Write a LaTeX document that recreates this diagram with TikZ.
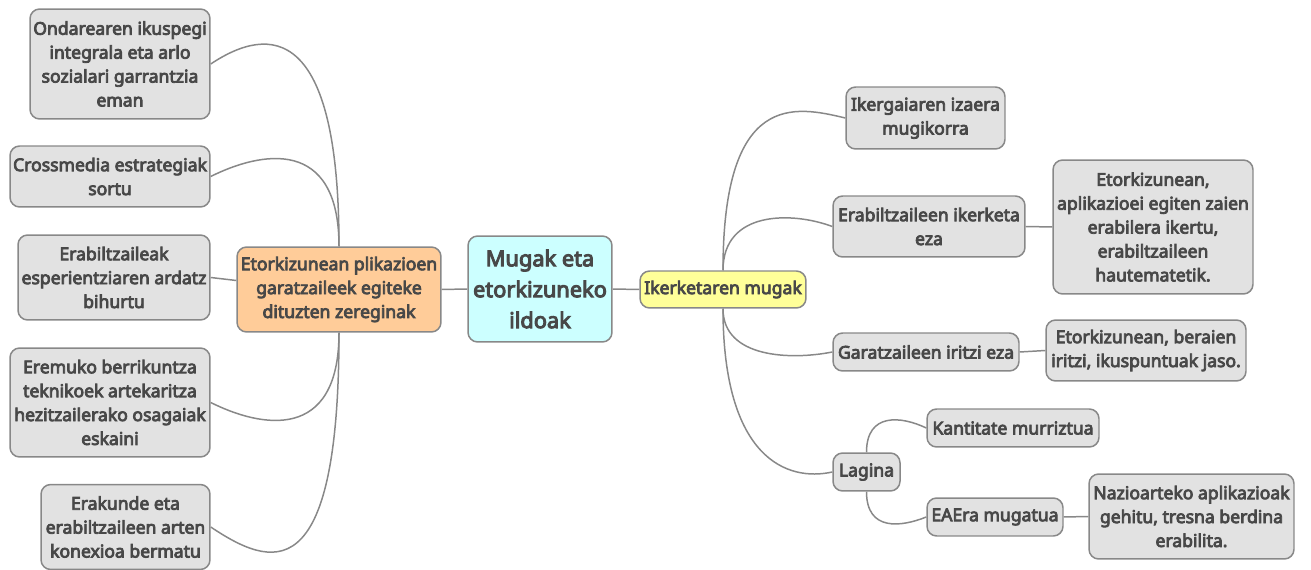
\documentclass[tikz,border=0pt]{standalone}
\usepackage{fontspec}
\setmainfont{Noto Sans}[AutoFakeBold=4.5]

\definecolor{lerroa}{HTML}{888888}
\definecolor{testua}{HTML}{484848}
\definecolor{grisa}{HTML}{E2E2E2}
\definecolor{laranja}{HTML}{FFCC99}
\definecolor{zian}{HTML}{CCFFFF}
\definecolor{horia}{HTML}{FFFF99}

\tikzset{
   kutxa/.style={draw=lerroa, line width=0.85pt, rounded corners=5.5pt, fill=grisa, text=testua,
      font=\bfseries\fontsize{10}{13.6}\selectfont, align=center, inner sep=0pt},
   adar/.style={draw=lerroa, line width=0.85pt},
}

\begin{document}
\begin{tikzpicture}[x=0.02cm, y=-0.02cm]

   \useasboundingbox (0,0) rectangle (1311,570);

   % erdiko nodoa
   \node [kutxa, fill=zian, minimum width=2.88cm, minimum height=2.12cm,
      font=\bfseries\fontsize{12.4}{17.6}\selectfont] (erdia) at (540,289) {Mugak eta\\etorkizuneko\\ildoak};
   \node [kutxa, fill=horia, minimum width=3.32cm, minimum height=0.74cm] (mugak) at (723,289.5) {Ikerketaren mugak};
   \node [kutxa, fill=laranja, minimum width=4.08cm, minimum height=1.70cm] (zereginak) at (339,289.5)
      {Etorkizunean plikazioen\\garatzaileek egiteke\\dituzten zereginak};

   % ezkerreko adarra
   \node [kutxa, minimum width=3.60cm, minimum height=2.20cm] (ondarea) at (120,64)
      {Ondarearen ikuspegi\\integrala eta arlo\\sozialari garrantzia\\eman};
   \node [kutxa, minimum width=4.00cm, minimum height=1.22cm] (crossmedia) at (110,176.5)
      {Crossmedia estrategiak\\sortu};
   \node [kutxa, minimum width=3.84cm, minimum height=1.70cm] (ardatza) at (114,277.5)
      {Erabiltzaileak\\esperientziaren ardatz\\bihurtu};
   \node [kutxa, minimum width=4.00cm, minimum height=2.18cm] (berrikuntza) at (110,402.5)
      {Eremuko berrikuntza\\teknikoek artekaritza\\hezitzailerako osagaiak\\eskaini};
   \node [kutxa, minimum width=3.38cm, minimum height=1.70cm] (konexioa) at (125.5,527)
      {Erakunde eta\\erabiltzaileen arten\\konexioa bermatu};

   % eskuineko adarra
   \node [kutxa, minimum width=3.18cm, minimum height=1.24cm] (izaera) at (925.5,118)
      {Ikergaiaren izaera\\mugikorra};
   \node [kutxa, minimum width=3.84cm, minimum height=1.22cm] (ikerketa) at (929,226.5)
      {Erabiltzaileen ikerketa\\eza};
   \node [kutxa, minimum width=4.00cm, minimum height=2.68cm] (erabilera) at (1153,227)
      {Etorkizunean,\\aplikazioei egiten zaien\\erabilera ikertu,\\erabiltzaileen\\hautematetik.};
   \node [kutxa, minimum width=3.72cm, minimum height=0.76cm] (iritzia) at (926,352)
      {Garatzaileen iritzi eza};
   \node [kutxa, minimum width=4.00cm, minimum height=1.22cm] (ikuspuntuak) at (1146,350.5)
      {Etorkizunean, beraien\\iritzi, ikuspuntuak jaso.};
   \node [kutxa, minimum width=1.34cm, minimum height=0.76cm] (lagina) at (866.5,472) {Lagina};
   \node [kutxa, minimum width=3.44cm, minimum height=0.76cm] (kantitatea) at (1013,428)
      {Kantitate murriztua};
   \node [kutxa, minimum width=2.72cm, minimum height=0.76cm] (eae) at (995,517) {EAEra mugatua};
   \node [kutxa, minimum width=4.10cm, minimum height=1.70cm] (nazioartea) at (1191.5,516.5)
      {Nazioarteko aplikazioak\\gehitu, tresna berdina\\erabilita.};

   % loturak
   \draw [adar] (zereginak.east) -- (erdia.west);
   \draw [adar] (erdia.east) -- (mugak.west);

   \draw [adar] (zereginak.north) .. controls +(0,-220) and +(60,-40) .. (ondarea.east);
   \draw [adar] (zereginak.north) .. controls +(0,-110) and +(50,-25) .. (crossmedia.east);
   \draw [adar] ([yshift=0.18cm]zereginak.west) -- (ardatza.east);
   \draw [adar] (zereginak.south) .. controls +(0,110) and +(50,25) .. (berrikuntza.east);
   \draw [adar] (zereginak.south) .. controls +(0,260) and +(60,40) .. (konexioa.east);

   \draw [adar] (mugak.north) .. controls +(0,-180) and +(-50,-12) .. (izaera.west);
   \draw [adar] (mugak.north) .. controls +(0,-60) and +(-40,-15) .. (ikerketa.west);
   \draw [adar] (mugak.south) .. controls +(0,50) and +(-40,8) .. (iritzia.west);
   \draw [adar] (mugak.south) .. controls +(0,150) and +(-45,10) .. (lagina.west);

   \draw [adar] (ikerketa.east) -- (erabilera.west);
   \draw [adar] (iritzia.east) -- (ikuspuntuak.west);
   \draw [adar] (lagina.north) .. controls +(0,-40) and +(-25,-12) .. (kantitatea.west);
   \draw [adar] (lagina.south) .. controls +(0,40) and +(-25,10) .. (eae.west);
   \draw [adar] (eae.east) -- (nazioartea.west);

\end{tikzpicture}
\end{document}
